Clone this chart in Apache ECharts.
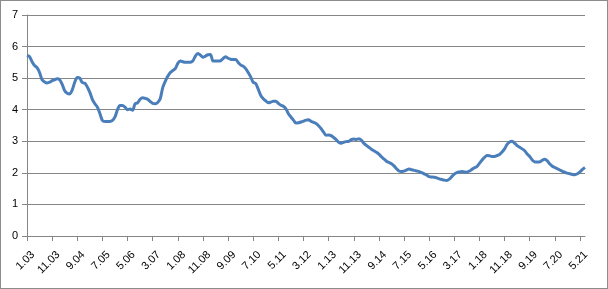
<!DOCTYPE html>
<html>
<head>
<meta charset="utf-8">
<script src="https://cdn.jsdelivr.net/npm/echarts@6/dist/echarts.min.js"></script>
<style>
html,body{margin:0;padding:0;background:#fff;}
#c{width:608px;height:289px;box-sizing:border-box;border:1px solid #8c8c8c;}
</style>
</head>
<body>
<div id="c"></div>
<script>
// Monthly categories from 1.03 to 7.21 (label format M.YY)
var startYear = 2003, startMonth = 1, monthCount = 223;
var categories = [];
for (var i = 0; i < monthCount; i++) {
  var mm = (startMonth - 1 + i) % 12 + 1;
  var yy = startYear + Math.floor((startMonth - 1 + i) / 12);
  categories.push(mm + '.' + String(yy % 100).padStart(2, '0'));
}

var values = [
  5.72,5.68,5.52,5.40,5.33,5.18,4.95,4.88,4.85,4.87,
  4.92,4.95,4.98,4.95,4.80,4.60,4.52,4.50,4.63,4.87,
  5.02,5.00,4.86,4.84,4.72,4.55,4.33,4.19,4.08,3.88,
  3.66,3.63,3.63,3.63,3.66,3.77,4.00,4.13,4.13,4.08,
  4.00,4.02,3.98,4.19,4.22,4.33,4.38,4.36,4.33,4.26,
  4.20,4.19,4.23,4.35,4.70,4.90,5.06,5.18,5.24,5.30,
  5.47,5.54,5.52,5.50,5.50,5.50,5.55,5.70,5.78,5.73,
  5.66,5.70,5.74,5.75,5.54,5.54,5.54,5.55,5.62,5.68,
  5.63,5.60,5.59,5.59,5.50,5.42,5.38,5.30,5.18,5.04,
  4.87,4.83,4.65,4.45,4.35,4.28,4.22,4.24,4.27,4.27,
  4.20,4.14,4.11,4.03,3.87,3.77,3.67,3.58,3.59,3.61,
  3.64,3.67,3.68,3.63,3.60,3.56,3.49,3.40,3.29,3.19,
  3.20,3.18,3.12,3.05,2.97,2.94,2.97,2.99,3.00,3.05,
  3.07,3.06,3.08,3.04,2.94,2.87,2.81,2.75,2.70,2.65,
  2.59,2.51,2.44,2.37,2.33,2.29,2.22,2.13,2.06,2.04,
  2.06,2.09,2.12,2.10,2.08,2.06,2.04,2.01,1.97,1.93,
  1.88,1.87,1.86,1.84,1.81,1.79,1.77,1.76,1.80,1.88,
  1.96,2.01,2.03,2.04,2.03,2.02,2.06,2.11,2.16,2.20,
  2.30,2.40,2.49,2.55,2.54,2.52,2.52,2.55,2.58,2.66,
  2.76,2.90,2.98,3.00,2.94,2.86,2.81,2.76,2.70,2.60,
  2.52,2.41,2.35,2.34,2.35,2.40,2.43,2.38,2.28,2.21,
  2.17,2.13,2.09,2.05,2.02,1.99,1.97,1.95,1.94,1.97,
  2.03,2.11,2.17
];

var yMin = 0, yMax = 7, yInterval = 1;
var labelEvery = 10;

var chart = echarts.init(document.getElementById('c'), null, {renderer: 'canvas'});
chart.setOption({
  animation: false,
  backgroundColor: '#ffffff',
  grid: {left: 26, right: 22, top: 14, bottom: 52, containLabel: false},
  xAxis: {
    type: 'category',
    data: categories,
    boundaryGap: false,
    axisLine: {lineStyle: {color: '#868686', width: 1}},
    axisTick: {show: true, interval: labelEvery - 1, length: 5, lineStyle: {color: '#868686'}},
    axisLabel: {
      interval: labelEvery - 1,
      rotate: 45,
      margin: 11,
      verticalAlign: 'top',
      padding: [3, 0, 0, 0],
      color: '#000',
      fontFamily: 'Liberation Sans, Arial, sans-serif',
      fontSize: 11
    },
    splitLine: {show: false}
  },
  yAxis: {
    type: 'value',
    min: yMin, max: yMax, interval: yInterval,
    axisLine: {show: true, lineStyle: {color: '#868686', width: 1}},
    axisTick: {show: true, length: 5, lineStyle: {color: '#868686'}},
    axisLabel: {
      margin: 9,
      color: '#000',
      fontFamily: 'Liberation Sans, Arial, sans-serif',
      fontSize: 11
    },
    splitLine: {show: true, lineStyle: {color: '#868686', width: 1}}
  },
  series: [{
    type: 'line',
    data: values,
    smooth: 0.3,
    showSymbol: false,
    symbol: 'none',
    lineStyle: {color: '#4a7ebb', width: 3},
    itemStyle: {color: '#4a7ebb'}
  }]
});
</script>
</body>
</html>
